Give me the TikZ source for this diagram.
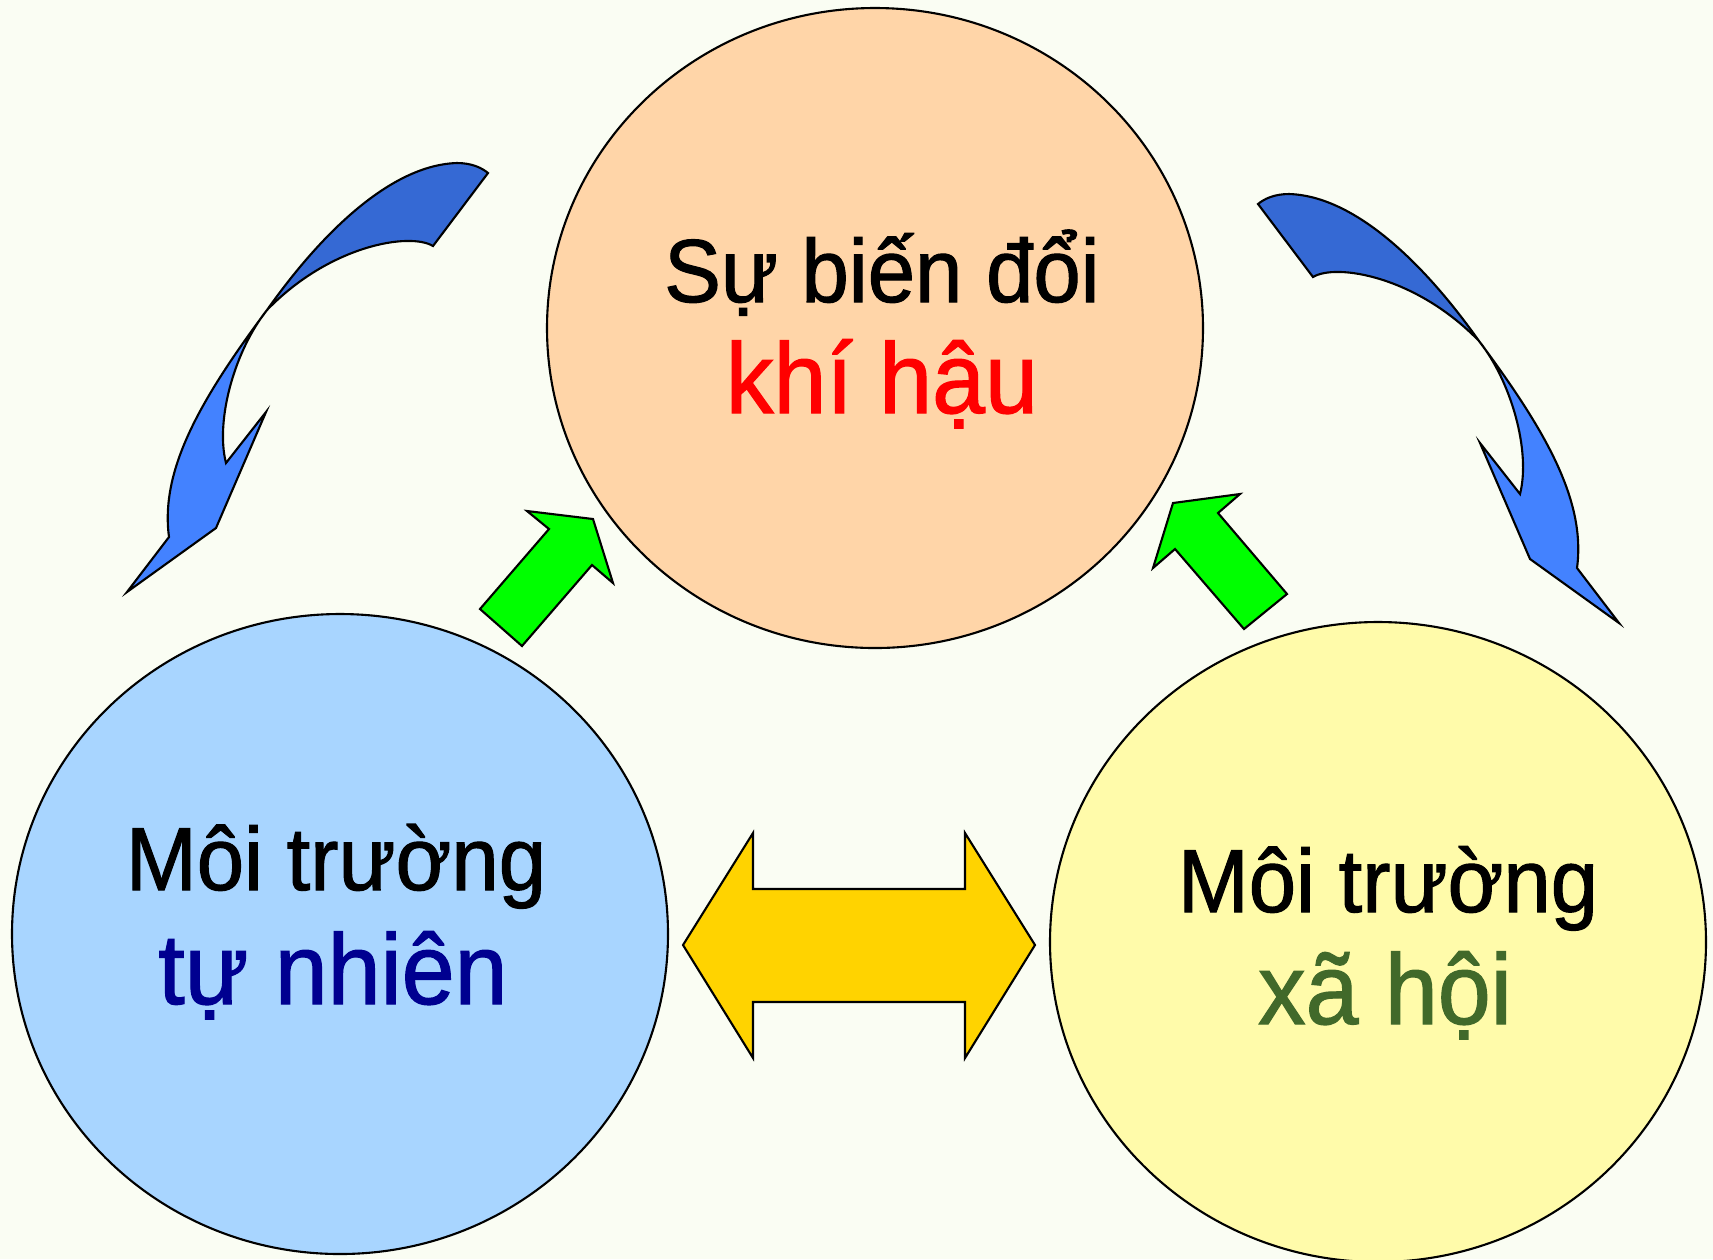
\documentclass[tikz,border=0pt]{standalone}
\usepackage{fontspec}
\setmainfont{Liberation Sans}[FakeStretch=0.95, FakeBold=1.2]
\usetikzlibrary{shapes.geometric}
\definecolor{paper}{RGB}{250,253,243}
\definecolor{peach}{RGB}{255,213,168}
\definecolor{skyfill}{RGB}{168,213,255}
\definecolor{lemon}{RGB}{255,251,170}
\definecolor{navytext}{RGB}{0,0,144}
\definecolor{olivetext}{RGB}{65,105,42}
\definecolor{goldarr}{RGB}{255,211,0}
\definecolor{backblue}{RGB}{53,105,212}
\definecolor{frontblue}{RGB}{67,130,255}
\newcommand{\bendarrow}{%
  \fill[backblue] (267,310) .. controls (320,235) and (390,165) .. (457,163)
    .. controls (472,163) and (482,168) .. (488,173) -- (433,246)
    .. controls (410,232) and (330,245) .. (267,310) -- cycle;
  \fill[frontblue] (267,310) .. controls (235,350) and (215,420) .. (226,463)
    -- (266,412) -- (216,528) -- (127,592) -- (169,537)
    .. controls (160,470) and (200,400) .. (267,310) -- cycle;
  \draw[outline] (488,173) -- (433,246)
    .. controls (410,232) and (330,245) .. (267,310)
    .. controls (235,350) and (215,420) .. (226,463)
    -- (266,412) -- (216,528) -- (127,592) -- (169,537)
    .. controls (160,470) and (200,400) .. (267,310)
    .. controls (320,235) and (390,165) .. (457,163)
    .. controls (472,163) and (482,168) .. (488,173) -- cycle;
}

\begin{document}
\begin{tikzpicture}[
  x=0.1mm, y=-0.1mm,
  outline/.style={draw, line width=0.6pt, line join=miter},
  bubble/.style={ellipse, outline, minimum width=65.6mm, minimum height=64mm, inner sep=0pt},
  upper/.style={anchor=base, inner sep=0pt, font=\fontsize{25.5pt}{30pt}\selectfont},
  lower/.style={anchor=base, inner sep=0pt, font=\fontsize{28.5pt}{34pt}\selectfont},
  greenarr/.style={outline, fill=green},
  goldblock/.style={outline, fill=goldarr}
]
\fill[paper] (0,0) rectangle (1713,1259);
\useasboundingbox (0,0) rectangle (1713,1259);

\node[bubble, fill=peach] (climate) at (875,328) {};
\node[bubble, fill=skyfill] (nature) at (340,934) {};
\node[bubble, fill=lemon] (society) at (1378,942) {};

\node[upper] (climatetop) at (882,302) {Sự biến đổi};
\node[lower, text=red] (climatebot) at (882,413) {khí hậu};
\node[upper] (naturetop) at (336,890) {Môi trường};
\node[lower, text=navytext] (naturebot) at (333,1004) {tự nhiên};
\node[upper] (societytop) at (1388,912) {Môi trường};
\node[lower, text=olivetext] (societybot) at (1385,1024) {xã hội};

% influences on the climate
\draw[greenarr] (480,609) -- (522,646) -- (592,565) -- (613,583) -- (593,519)
  -- (527,511) -- (549,529) -- cycle;
\draw[greenarr] (1173,503) -- (1240,494) -- (1218,513) -- (1287,594)
  -- (1244,629) -- (1175,549) -- (1153,568) -- cycle;

% two-way link between the environments
\draw[goldblock] (683,945) -- (753,833) -- (753,889) -- (965,889) -- (965,833)
  -- (1035,945) -- (965,1058) -- (965,1002) -- (753,1002) -- (753,1058) -- cycle;

% twisted feedback arrows
\bendarrow
\begin{scope}[shift={(1746,31)}, xscale=-1]
  \bendarrow
\end{scope}
\end{tikzpicture}
\end{document}
